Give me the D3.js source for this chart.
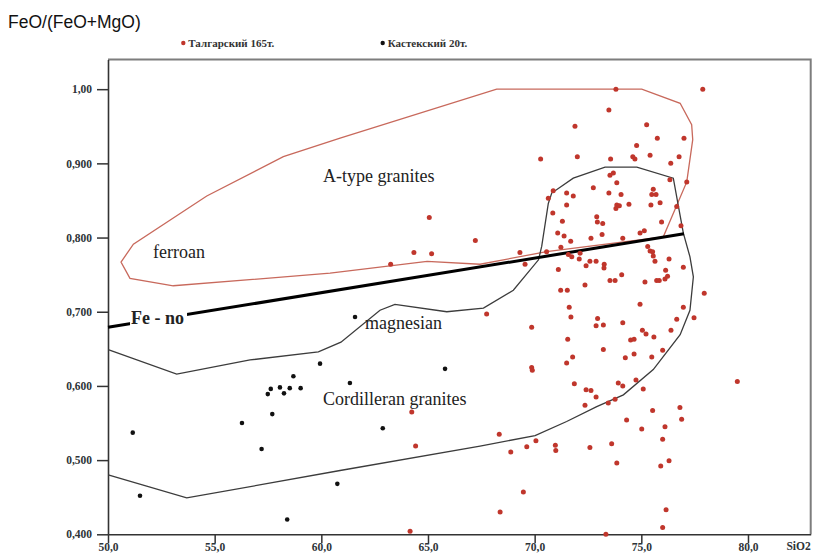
<!DOCTYPE html>
<html>
<head>
<meta charset="utf-8">
<title>FeO/(FeO+MgO) vs SiO2</title>
<script src="https://cdn.jsdelivr.net/npm/d3@7"></script>
<style>
    body { margin: 0; background: #fff; }
    .tick text { font-family: "Liberation Serif", "Times New Roman", serif; font-weight: bold; font-size: 11.5px; fill: #2e3438; }
    .field-label { font-family: "Liberation Serif", "Times New Roman", serif; font-size: 18px; fill: #222; }
</style>
</head>
<body>
<div id="chart"></div>
<script>
    // ---- data ----
    var xTicks = [50, 55, 60, 65, 70, 75, 80];
    var xTickLabels = ["50,0", "55,0", "60,0", "65,0", "70,0", "75,0", "80,0"];
    var yTicks = [0.4, 0.5, 0.6, 0.7, 0.8, 0.9, 1.0];
    var yTickLabels = ["0,400", "0,500", "0,600", "0,700", "0,800", "0,900", "1,00"];

    var seriesNames = ["Талгарский 165т.", "Кастекский 20т."];

    // Талгарский massif samples [SiO2, FeO/(FeO+MgO)]
    var talgarPoints = [
        [73.81,1.000],[77.88,1.000],[73.48,0.972],[71.89,0.950],[75.25,0.952],[75.75,0.934],[77.00,0.934],
        [74.78,0.924],[70.28,0.906],[72.00,0.909],[73.56,0.906],[74.60,0.909],[74.70,0.906],[75.41,0.911],
        [76.77,0.909],[76.38,0.900],[73.53,0.884],[73.69,0.887],[73.85,0.874],[76.34,0.878],[77.13,0.875],
        [72.75,0.867],[70.87,0.863],[70.64,0.853],[71.50,0.860],[71.81,0.856],[73.48,0.860],[74.05,0.858],
        [75.56,0.865],[75.49,0.858],[75.69,0.858],[71.50,0.844],[73.85,0.844],[73.97,0.843],[73.81,0.839],
        [74.42,0.845],[75.45,0.844],[75.88,0.847],[76.66,0.842],[70.85,0.833],[72.91,0.828],[72.94,0.821],
        [73.19,0.819],[71.30,0.822],[75.95,0.821],[76.86,0.816],[71.08,0.806],[71.38,0.802],[71.69,0.795],
        [72.64,0.799],[73.16,0.804],[74.13,0.799],[74.94,0.806],[75.14,0.809],[71.23,0.787],[70.56,0.781],
        [69.31,0.780],[69.55,0.764],[71.58,0.777],[71.74,0.774],[72.13,0.779],[72.09,0.771],[72.59,0.768],
        [72.88,0.768],[73.26,0.764],[73.25,0.759],[72.41,0.762],[75.30,0.788],[75.41,0.782],[75.53,0.781],
        [75.56,0.775],[75.64,0.768],[76.30,0.771],[76.97,0.760],[71.11,0.757],[76.14,0.756],[76.23,0.748],
        [76.11,0.744],[75.72,0.742],[75.84,0.742],[74.08,0.750],[73.53,0.742],[73.77,0.742],[75.17,0.740],
        [72.36,0.736],[71.22,0.729],[71.53,0.729],[77.95,0.725],[71.62,0.706],[74.94,0.710],[76.97,0.706],
        [67.75,0.697],[71.70,0.693],[77.47,0.692],[76.66,0.690],[69.86,0.679],[72.95,0.691],[72.88,0.681],
        [73.22,0.682],[74.13,0.685],[75.05,0.675],[75.22,0.670],[75.59,0.666],[76.39,0.675],[71.55,0.663],
        [74.50,0.662],[74.66,0.663],[73.22,0.649],[76.00,0.648],[69.86,0.625],[69.89,0.621],[71.50,0.631],
        [71.78,0.639],[74.25,0.638],[74.66,0.643],[75.49,0.639],[71.86,0.603],[72.41,0.595],[72.64,0.594],
        [72.88,0.585],[73.92,0.604],[74.13,0.600],[74.75,0.608],[75.09,0.596],[72.36,0.574],[73.45,0.577],
        [73.77,0.582],[75.53,0.567],[76.81,0.571],[76.89,0.555],[74.31,0.554],[75.02,0.542],[76.11,0.545],
        [76.00,0.528],[68.34,0.535],[68.88,0.511],[69.63,0.518],[70.06,0.526],[70.97,0.520],[70.99,0.513],
        [72.59,0.517],[73.61,0.522],[73.85,0.496],[75.91,0.492],[76.30,0.499],[69.47,0.457],[68.38,0.430],
        [76.16,0.433],[76.00,0.409],[73.34,0.400],[65.06,0.827],[67.22,0.796],[64.34,0.780],[65.17,0.778],
        [63.25,0.764],[64.24,0.565],[64.42,0.519],[64.16,0.404],[79.50,0.606]
    ];

    // Кастекский massif samples
    var kastekPoints = [
        [51.16,0.537],[51.50,0.452],[56.28,0.550],[57.20,0.515],[57.49,0.589],[57.63,0.596],[57.70,0.562],
        [58.06,0.598],[58.25,0.590],[58.52,0.597],[58.69,0.613],[59.03,0.597],[59.94,0.630],[58.40,0.420],
        [60.75,0.468],[61.58,0.693],[61.34,0.604],[65.80,0.623],[62.88,0.543]
    ];

    // A-type (ferroan) field outline, closed
    var ferroanField = [
        [50.61,0.767],[51.19,0.791],[54.63,0.856],[58.22,0.909],[60.88,0.934],[68.22,1.000],[75.02,1.000],
        [76.82,0.981],[77.36,0.952],[77.41,0.932],[77.13,0.875],[76.03,0.801],[70.56,0.781],[67.44,0.764],
        [64.96,0.768],[60.41,0.752],[53.06,0.735],[51.03,0.745]
    ];

    // Cordilleran field outline, open at the y axis
    var cordilleranField = [
        [50.01,0.649],[53.22,0.616],[56.66,0.635],[59.86,0.646],[60.92,0.659],[62.75,0.702],[63.45,0.710],
        [65.88,0.700],[67.6,0.705],[69.0,0.729],[70.18,0.770],[70.33,0.788],[70.64,0.846],[70.80,0.860],
        [71.81,0.880],[73.30,0.895],[74.79,0.895],[76.50,0.880],[76.74,0.842],[76.97,0.806],[77.28,0.774],
        [77.44,0.747],[77.28,0.702],[76.82,0.669],[75.56,0.622],[74.16,0.588],[72.91,0.572],[71.50,0.552],
        [70.02,0.533],[67.44,0.519],[60.88,0.486],[53.69,0.449],[50.01,0.480]
    ];

    // ferroan / magnesian divide
    var feNoLine = [[50.0,0.679],[77.0,0.805]];

    // ---- layout ----
    var W = 825, H = 559;
    var margin = {top: 59.5, left: 108, right: 14.3, bottom: 24.7};

    var svg = d3.select("#chart").append("svg")
        .attr("width", W)
        .attr("height", H);

    var x = d3.scaleLinear().domain([50, 82.94]).range([margin.left, W - margin.right]);
    var y = d3.scaleLinear().domain([0.4, 1.04]).range([H - margin.bottom, margin.top]);

    var line = d3.line()
        .x(function(d){ return x(d[0]); })
        .y(function(d){ return y(d[1]); });

    // frame (top and right, grey)
    svg.append("path")
        .attr("d", "M" + x(50) + "," + y(1.04) + "H" + x(82.94) + "V" + y(0.4))
        .attr("fill", "none")
        .attr("stroke", "#7d7d7d")
        .attr("stroke-width", 2);

    // axes
    var yAxis = d3.axisLeft(y).tickValues(yTicks)
        .tickFormat(function(d, i){ return yTickLabels[i]; })
        .tickSize(11).tickSizeOuter(0).tickPadding(5);
    var xAxis = d3.axisBottom(x).tickValues(xTicks)
        .tickFormat(function(d, i){ return xTickLabels[i]; })
        .tickSize(9).tickSizeOuter(0).tickPadding(0);

    var gy = svg.append("g")
        .attr("transform", "translate(" + margin.left + ",0)")
        .call(yAxis);
    var gx = svg.append("g")
        .attr("transform", "translate(0," + (H - margin.bottom) + ")")
        .call(xAxis);
    [gx, gy].forEach(function(g){
        g.select(".domain").attr("stroke", "#333").attr("stroke-width", 1.6);
        g.selectAll(".tick line").attr("stroke", "#333").attr("stroke-width", 1.5);
        g.attr("font-family", null).attr("font-size", null);
    });

    // fields
    svg.append("path")
        .datum(ferroanField)
        .attr("d", function(d){ return line(d) + "Z"; })
        .attr("fill", "none")
        .attr("stroke", "#c8695c")
        .attr("stroke-width", 1.3);

    svg.append("path")
        .datum(cordilleranField)
        .attr("d", line)
        .attr("fill", "none")
        .attr("stroke", "#3c3c3c")
        .attr("stroke-width", 1.3);

    svg.append("path")
        .datum(feNoLine)
        .attr("d", line)
        .attr("stroke", "#000")
        .attr("stroke-width", 3);

    // Fe - no label sits in a gap of the divide line
    var feLabel = svg.append("text")
        .attr("class", "field-label")
        .attr("x", x(51.08))
        .attr("y", y(0.684))
        .attr("font-weight", "bold")
        .text("Fe - no");
    var bb = feLabel.node().getBBox();
    svg.insert("rect", "text.field-label")
        .attr("x", bb.x - 1).attr("y", bb.y + 2)
        .attr("width", bb.width + 4).attr("height", bb.height - 2)
        .attr("fill", "#fff");

    var fieldLabels = [
        {t: "A-type granites", x: 60.08, y: 0.875},
        {t: "ferroan", x: 52.11, y: 0.773},
        {t: "magnesian", x: 62.05, y: 0.677},
        {t: "Cordilleran granites", x: 60.08, y: 0.574}
    ];
    svg.selectAll(".flabel")
        .data(fieldLabels).enter()
        .append("text")
        .attr("class", "field-label flabel")
        .attr("x", function(d){ return x(d.x); })
        .attr("y", function(d){ return y(d.y); })
        .text(function(d){ return d.t; });

    // points
    svg.append("g").selectAll("circle")
        .data(talgarPoints).enter()
        .append("circle")
        .attr("cx", function(d){ return x(d[0]); })
        .attr("cy", function(d){ return y(d[1]); })
        .attr("r", 2.5)
        .attr("fill", "#c0362c");

    svg.append("g").selectAll("circle")
        .data(kastekPoints).enter()
        .append("circle")
        .attr("cx", function(d){ return x(d[0]); })
        .attr("cy", function(d){ return y(d[1]); })
        .attr("r", 2.3)
        .attr("fill", "#111");

    // axis titles
    svg.append("text")
        .attr("x", 8).attr("y", 28)
        .attr("font-family", "Liberation Sans, Arial, sans-serif")
        .attr("font-size", "17.5px")
        .attr("fill", "#111")
        .text("FeO/(FeO+MgO)");

    svg.append("text")
        .attr("x", x(82.94)).attr("y", 550)
        .attr("text-anchor", "end")
        .attr("font-family", "Liberation Serif, serif")
        .attr("font-weight", "bold")
        .attr("font-size", "11.5px")
        .attr("fill", "#2e3438")
        .text("SiO2");

    // legend
    var legend = [
        {name: seriesNames[0], color: "#c0362c", cx: 183.3},
        {name: seriesNames[1], color: "#111", cx: 382.7}
    ];
    var lg = svg.append("g").selectAll("g")
        .data(legend).enter()
        .append("g")
        .attr("transform", function(d){ return "translate(" + d.cx + ",43)"; });
    lg.append("circle").attr("r", 2.2).attr("fill", function(d){ return d.color; });
    lg.append("text")
        .attr("x", 5).attr("y", 4)
        .attr("font-family", "Liberation Serif, serif")
        .attr("font-weight", "bold")
        .attr("font-size", "11px")
        .attr("fill", "#333")
        .text(function(d){ return d.name; });
</script>
</body>
</html>
